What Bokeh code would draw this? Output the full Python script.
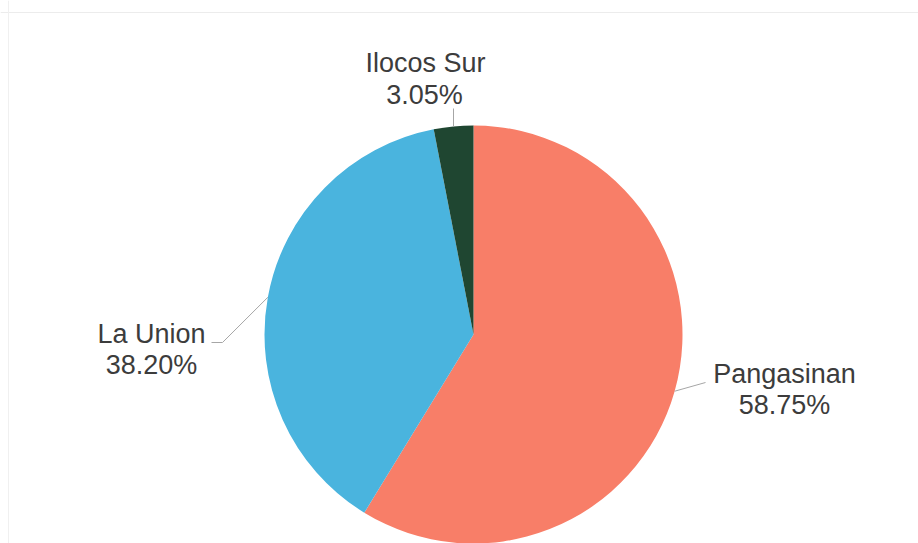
import math
from bokeh.plotting import figure
from bokeh.models import Range1d, ColumnDataSource, Span
from bokeh.embed import file_html
from bokeh.resources import INLINE
from bokeh.core.properties import value

# ---- data ----
regions = ["Pangasinan", "La Union", "Ilocos Sur"]
shares = [58.75, 38.20, 3.05]
colors = ["#F87E68", "#4AB4DE", "#1F4631"]

# ---- layout (picture pixel coordinates) ----
W, H = 918, 543
PIE_CENTER = (473, 334)
PIE_R = 209
# leader line path after the slice-edge point, and label centres (name, percent)
leader_paths = [[(705, 382)], [(222, 342), (211, 342)], [(453, 108)]]
name_pos = [(784, 373), (151, 333), (425, 62)]
pct_pos = [(784, 404), (151, 364), (424, 94)]
FONT = "Liberation Sans"
FONT_SIZE = "27px"
TEXT_COLOR = "#3c3c3c"


def px(x, y):
    return x, H - y


p = figure(width=W, height=H, x_range=Range1d(0, W), y_range=Range1d(0, H),
           output_backend="svg", toolbar_location=None, min_border=0)
p.axis.visible = False
p.grid.visible = False
p.outline_line_color = None
p.background_fill_color = "white"
p.border_fill_color = "white"

cx, cy = px(*PIE_CENTER)
total = sum(shares)
starts, ends, mids = [], [], []
acc = 0.0
for s in shares:
    a0 = math.pi / 2 - 2 * math.pi * acc / total
    acc += s
    a1 = math.pi / 2 - 2 * math.pi * acc / total
    starts.append(a0)
    ends.append(a1)
    mids.append((a0 + a1) / 2)

src = ColumnDataSource(dict(x=[cx] * len(shares), y=[cy] * len(shares),
                            start=starts, end=ends, color=colors, region=regions))
p.wedge(x="x", y="y", radius=PIE_R, start_angle="start", end_angle="end",
        direction="clock", fill_color="color", line_color=None, source=src)

# faint frame lines of the scanned chart box
p.add_layout(Span(location=px(0, 12)[1], dimension="width", line_color="#ececec", line_width=1))
p.add_layout(Span(location=8, dimension="height", line_color="#f0f0f0", line_width=1))

# leader lines
for m, path in zip(mids, leader_paths):
    ex, ey = cx + PIE_R * math.cos(m), cy + PIE_R * math.sin(m)
    xs = [ex] + [px(*q)[0] for q in path]
    ys = [ey] + [px(*q)[1] for q in path]
    p.line(xs, ys, line_color="#a6a6a6", line_width=1)

names_x = [px(*q)[0] for q in name_pos]
names_y = [px(*q)[1] for q in name_pos]
pct_x = [px(*q)[0] for q in pct_pos]
pct_y = [px(*q)[1] for q in pct_pos]
pct_txt = [f"{s:.2f}%" for s in shares]

p.text(names_x, names_y, text=regions, text_font=value(FONT), text_font_size=FONT_SIZE,
       text_color=TEXT_COLOR, text_align="center", text_baseline="middle")
p.text(pct_x, pct_y, text=pct_txt, text_font=value(FONT), text_font_size=FONT_SIZE,
       text_color=TEXT_COLOR, text_align="center", text_baseline="middle")

open("out.html", "w").write(file_html(p, INLINE))
